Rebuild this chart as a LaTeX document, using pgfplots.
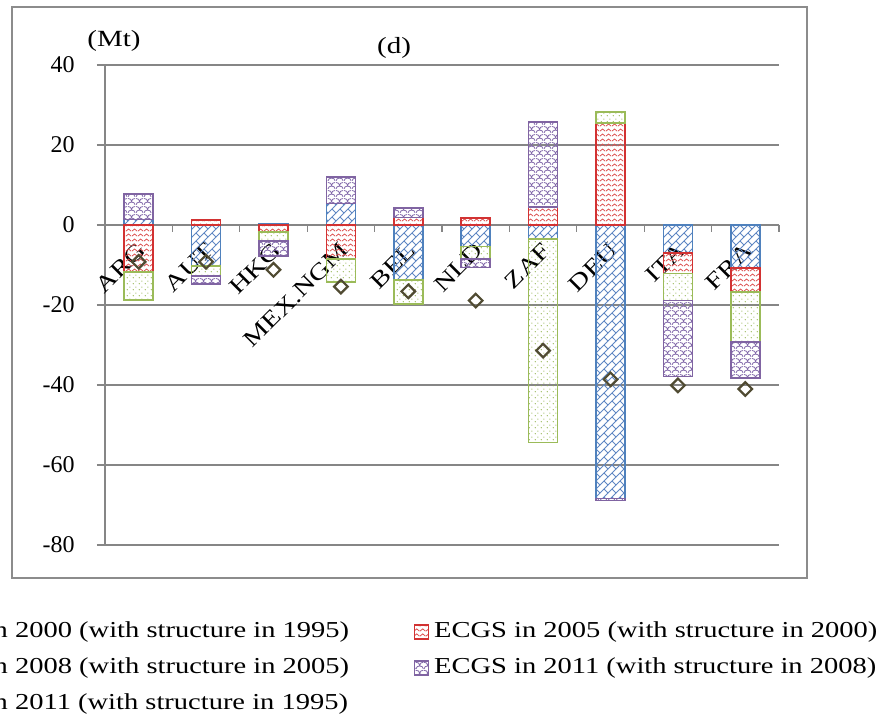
\documentclass[border=0pt]{standalone}
\usepackage{fontspec}
\setmainfont{Liberation Serif}
\newfontfamily\wide[FakeStretch=1.25]{Liberation Serif}
\usepackage{pgfplots}
\pgfplotsset{compat=1.18}
\usepackage{pgfplotstable}
\usetikzlibrary{patterns}

\definecolor{cblue}{RGB}{79,129,189}
\definecolor{cblueL}{RGB}{95,135,195}
\definecolor{cred}{RGB}{210,50,50}
\definecolor{credL}{RGB}{220,80,80}
\definecolor{cgreen}{RGB}{155,187,89}
\definecolor{cgreenL}{RGB}{140,175,70}
\definecolor{cpurple}{RGB}{128,100,162}
\definecolor{cpurpleL}{RGB}{130,105,170}
\definecolor{gridgray}{RGB}{134,134,134}
\definecolor{framegray}{RGB}{140,140,140}
\definecolor{dmd}{RGB}{80,75,50}

\pgfdeclarepatternformonly{brickdiag}{\pgfqpoint{-0.5pt}{-0.5pt}}{\pgfqpoint{4.5pt}{4.5pt}}{\pgfqpoint{4pt}{4pt}}{%
  \pgfsetlinewidth{0.45pt}%
  \pgfpathmoveto{\pgfqpoint{0pt}{0pt}}\pgfpathlineto{\pgfqpoint{4pt}{4pt}}%
  \pgfpathmoveto{\pgfqpoint{2pt}{2pt}}\pgfpathlineto{\pgfqpoint{4pt}{0pt}}%
  \pgfusepath{stroke}}
\pgfdeclarepatternformonly{zigzag}{\pgfqpoint{0pt}{0pt}}{\pgfqpoint{3pt}{2.5pt}}{\pgfqpoint{3pt}{2.5pt}}{%
  \pgfsetlinewidth{0.45pt}%
  \pgfpathmoveto{\pgfqpoint{0pt}{0.5pt}}\pgfpathlineto{\pgfqpoint{1.5pt}{1.8pt}}\pgfpathlineto{\pgfqpoint{3pt}{0.5pt}}%
  \pgfusepath{stroke}}
\pgfdeclarepatternformonly{sdots}{\pgfqpoint{0pt}{0pt}}{\pgfqpoint{3pt}{3pt}}{\pgfqpoint{3pt}{3pt}}{%
  \pgfpathcircle{\pgfqpoint{0.75pt}{0.75pt}}{0.35pt}%
  \pgfpathcircle{\pgfqpoint{2.25pt}{2.25pt}}{0.35pt}%
  \pgfusepath{fill}}
\pgfdeclarepatternformonly{shingle}{\pgfqpoint{0pt}{0pt}}{\pgfqpoint{4pt}{4pt}}{\pgfqpoint{4pt}{4pt}}{%
  \pgfsetlinewidth{0.45pt}%
  \pgfpathmoveto{\pgfqpoint{0pt}{0pt}}\pgfpathcurveto{\pgfqpoint{0pt}{2.2pt}}{\pgfqpoint{4pt}{2.2pt}}{\pgfqpoint{4pt}{0pt}}%
  \pgfpathmoveto{\pgfqpoint{0pt}{3.65pt}}\pgfpathcurveto{\pgfqpoint{1pt}{3.65pt}}{\pgfqpoint{2pt}{3.1pt}}{\pgfqpoint{2pt}{2pt}}%
  \pgfpathcurveto{\pgfqpoint{2pt}{3.1pt}}{\pgfqpoint{3pt}{3.65pt}}{\pgfqpoint{4pt}{3.65pt}}%
  \pgfusepath{stroke}}

% x: category index; v1..v4: ECGS series (Mt); b2..b4: stack base of each segment; d: ECGS 2011 (structure 1995)
\pgfplotstableread{
x  v1     b2     v2     b3     v3     b4     v4     d
0  1.4    0      -11.7  -11.7  -7.1   1.4    6.3    -9.2
1  -10.2  0      1.3    -10.2  -2.6   -12.8  -2.0   -9.2
2  0.2    0      -1.7   -1.7   -2.3   -4.0   -3.7   -11.2
3  5.4    0      -8.5   -8.5   -5.8   5.4    6.6    -15.4
4  -13.8  0      1.9    -13.8  -6.0   1.9    2.3    -16.6
5  -5.4   0      1.7    -5.4   -3.1   -8.5   -2.1   -18.9
6  -3.5   0      4.5    -3.5   -50.9  4.5    21.3   -31.4
7  -68.4  0      25.5   25.5   2.8    -68.4  -0.5   -38.6
8  -7.0   -7.0   -5.1   -12.1  -6.8   -18.9  -19.0  -40.1
9  -10.8  -10.8  -6.0   -16.8  -12.5  -29.3  -9.0   -41.0
}\data

\pgfplotsset{
  barleg/.style={legend image code/.code={\draw[##1] (0pt,-3.5pt) rectangle (7pt,3.5pt);}},
  dmdleg/.style={legend image code/.code={\draw[mark repeat=2,mark phase=2,##1] plot coordinates {(0pt,0pt)(3.5pt,0pt)(7pt,0pt)};}},
  common/.style={at={(52.5pt,86pt)}, anchor=south west,
    scale only axis, width=337pt, height=240pt,
    xmin=-0.5, xmax=9.5, ymin=-80, ymax=40},
  hid/.style={common, hide axis, ybar stacked, bar width=14.5pt},
  sblue/.style={draw=cblue, line width=0.75pt, pattern=brickdiag, pattern color=cblueL},
  sred/.style={draw=cred, line width=0.75pt, pattern=zigzag, pattern color=credL},
  sgreen/.style={draw=cgreen, line width=0.75pt, pattern=sdots, pattern color=cgreenL},
  spurple/.style={draw=cpurple, line width=0.75pt, pattern=shingle, pattern color=cpurpleL},
}

\begin{document}
\begin{tikzpicture}
\useasboundingbox (0,0) rectangle (439pt,358.5pt);
\clip (0,0) rectangle (439pt,358.5pt);
\draw[framegray, line width=1pt] (6pt,69.5pt) rectangle (403.5pt,355pt);
% main axis: grid, ticks, labels, first series
\begin{axis}[
  common,
  ybar, bar width=14.5pt, bar shift=0pt,
  axis x line=middle, axis y line=left,
  x axis line style={-}, y axis line style={-},
  axis line style={draw=gridgray, line width=0.6pt},
  hide obscured x ticks=false, hide obscured y ticks=false,
  ytick={-80,-60,-40,-20,0,20,40},
  yticklabels={-80,-60,-40,-20,0,20,40},
  ymajorgrids, grid style={draw=gridgray, line width=0.6pt},
  xtick={0,...,9},
  xticklabels={ARG,AUT,HKG,MEX.NGM,BEL,NLD,ZAF,DEU,ITA,FRA},
  minor xtick={-0.5,0.5,...,9.5},
  tick align=outside,
  major tick length=4pt, minor tick length=3.5pt,
  major x tick style={draw=none},
  minor x tick style={draw=gridgray, line width=0.6pt},
  major y tick style={draw=gridgray, line width=0.6pt},
  yticklabel style={font=\fontsize{12}{12}\selectfont, anchor=east, inner sep=0pt, xshift=-11pt},
  xticklabel style={font=\wide\fontsize{11.4}{11.4}\selectfont, rotate=45, anchor=east, inner sep=0pt, xshift=-3.4pt, yshift=-6.1pt},
]
\addplot[sblue] table[x=x,y=v1]{\data};
\end{axis}
\begin{axis}[hid]
\addplot[draw=none, fill=none] table[x=x,y=b2]{\data};
\addplot[sred] table[x=x,y=v2]{\data};
\end{axis}
\begin{axis}[hid]
\addplot[draw=none, fill=none] table[x=x,y=b3]{\data};
\addplot[sgreen] table[x=x,y=v3]{\data};
\end{axis}
\begin{axis}[hid]
\addplot[draw=none, fill=none] table[x=x,y=b4]{\data};
\addplot[spurple] table[x=x,y=v4]{\data};
\end{axis}
\begin{axis}[common, hide axis,
  legend columns=2,
  legend style={at={(-0.3265,-0.153)}, anchor=north west, draw=none, fill=none,
    inner xsep=0pt, inner ysep=0pt, row sep=5pt,
    font=\wide\fontsize{11.4}{11.4}\selectfont,
    nodes={inner sep=1.25pt, text height=8pt, text depth=2.5pt, anchor=west},
    /tikz/every odd column/.append style={column sep=1.25pt},
    /tikz/every even column/.append style={column sep=31pt}},
  legend cell align=left,
]
\addlegendimage{sblue, barleg}
\addlegendentry{ECGS in 2000 (with structure in 1995)}
\addlegendimage{sred, barleg}
\addlegendentry{ECGS in 2005 (with structure in 2000)}
\addlegendimage{sgreen, barleg}
\addlegendentry{ECGS in 2008 (with structure in 2005)}
\addlegendimage{spurple, barleg}
\addlegendentry{ECGS in 2011 (with structure in 2008)}
\addplot[only marks, mark=square, mark size=2.4pt,
  mark options={draw=dmd, fill=white, line width=1.1pt, rotate=45}, dmdleg]
  table[x=x,y=d]{\data};
\addlegendentry{ECGS in 2011 (with structure in 1995)}
\end{axis}
\node[font=\wide\fontsize{11.6}{11.6}\selectfont] at (57pt,338pt) {(Mt)};
\node[font=\wide\fontsize{11.6}{11.6}\selectfont] at (197pt,334.5pt) {(d)};
\end{tikzpicture}
\end{document}
